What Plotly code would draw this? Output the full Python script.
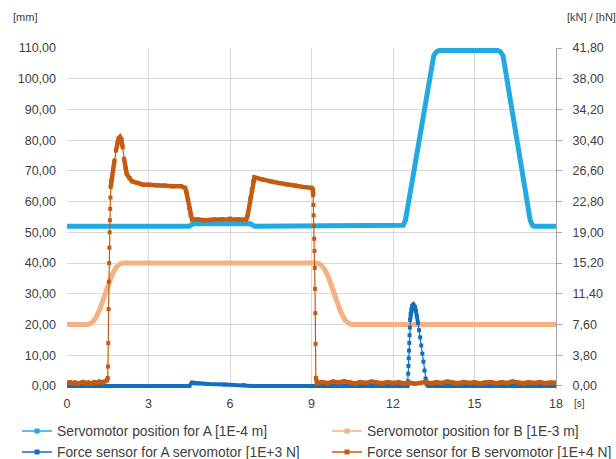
import plotly.graph_objects as go

# ---------------- data ----------------
# Servomotor position for A [1E-4 m]  (left axis, mm)
pos_a_t = [0, 4.5, 4.65, 6.75, 6.9, 12.3, 12.38, 12.46, 13.5, 13.6, 13.7,
           15.85, 15.95, 16.05, 17.05, 17.13, 17.2, 18]
pos_a_v = [52, 52, 52.8, 52.8, 52, 52, 52.3, 54, 107.5, 108.8, 109.2,
           109.2, 108.8, 107.5, 54, 52.3, 52, 52]

# Servomotor position for B [1E-3 m]  (left axis, mm)
pos_b_t = [0, 0.77, 0.9, 1.05, 1.2, 1.35, 1.5, 1.65, 1.8, 1.95, 2.06,
           9.2, 9.33, 9.48, 9.63, 9.78, 9.93, 10.08, 10.23, 10.38, 10.49, 18]
pos_b_v = [20, 20, 20.5, 22, 24.8, 28.5, 32.5, 36, 38.5, 39.7, 40,
           40, 39.5, 38, 35.2, 31.5, 27.5, 24, 21.5, 20.3, 20, 20]

# Force sensor for A servomotor [1E+3 N]  (right axis, kN / hN)
force_a_t = [0, 4.5, 4.6, 4.8, 5.2, 5.8, 6.5, 6.8, 12.53,
             12.55, 12.56, 12.57, 12.58, 12.59, 12.6, 12.61, 12.62, 12.63,
             12.65, 12.68, 12.71, 12.75, 12.8, 12.84, 12.88, 12.92, 12.96,
             13.0, 13.04, 13.08, 13.12, 13.16, 13.2, 13.24, 13.3, 18]
force_a_v = [0, 0, 0.4, 0.33, 0.24, 0.17, 0.1, 0, 0,
             0.57, 1.52, 2.47, 3.42, 4.37, 5.32, 6.27, 7.22, 8.17,
             8.93, 9.5, 9.88, 10.07, 9.8, 9.3, 8.6, 7.8, 6.9,
             6.0, 5.0, 4.0, 3.0, 1.9, 0.9, 0.2, 0, 0]

# Force sensor for B servomotor [1E+4 N]  (right axis, kN / hN)
force_b_t = [0, 0.1, 0.2, 0.3, 0.4, 0.5, 0.6, 0.7, 0.8, 0.9, 1.0, 1.1, 1.2, 1.3, 1.4, 1.47,
             1.5, 1.51, 1.52, 1.53, 1.54, 1.55, 1.56, 1.57, 1.58, 1.59, 1.6, 1.61,
             1.63, 1.66, 1.7, 1.75, 1.8, 1.85, 1.9, 1.95, 2.0, 2.05, 2.1, 2.15, 2.2,
             2.3, 2.4, 2.6, 2.8, 3.0, 3.3, 3.6, 3.9, 4.2, 4.35, 4.4, 4.45, 4.5, 4.55,
             4.6, 4.8, 5.1, 5.4, 5.7, 6.0, 6.3, 6.6, 6.65, 6.7, 6.75, 6.8, 6.85, 6.9,
             7.0, 7.2, 7.5, 7.8, 8.1, 8.4, 8.7, 9.0, 9.05, 9.06, 9.07, 9.08, 9.09,
             9.1, 9.11, 9.12, 9.13, 9.14, 9.15, 9.16,
             9.2, 9.4, 9.6, 9.8, 10.0, 10.2, 10.4, 10.6, 10.8, 11.0, 11.2, 11.4,
             11.6, 11.8, 12.0, 12.2, 12.4, 12.6, 12.8, 13.0, 13.2, 13.4, 13.6,
             13.8, 14.0, 14.2, 14.4, 14.6, 14.8, 15.0, 15.2, 15.4, 15.6, 15.8,
             16.0, 16.2, 16.4, 16.6, 16.8, 17.0, 17.2, 17.4, 17.6, 17.8, 18.0]
force_b_v = [0.30, 0.46, 0.34, 0.42, 0.27, 0.38, 0.49, 0.34, 0.42, 0.30, 0.46, 0.38, 0.53, 0.42, 0.57, 0.68,
             1.0, 2.4, 5.3, 9.5, 12.9, 15.2, 17.1, 19.0, 20.5, 21.9, 23.3, 24.6,
             25.4, 25.9, 26.8, 27.9, 29.1, 30.0, 30.6, 30.8, 30.5, 29.5, 28.1, 27.0, 26.2,
             25.7, 25.3, 25.1, 24.9, 24.9, 24.8, 24.8, 24.7, 24.7, 24.5, 23.9, 23.0, 22.0, 21.1,
             20.6, 20.6, 20.5, 20.6, 20.6, 20.7, 20.6, 20.6, 21.1, 22.0, 23.2, 24.3, 25.3, 25.8,
             25.7, 25.5, 25.3, 25.1, 24.9, 24.8, 24.6, 24.5, 24.3, 23.6, 22.4, 21.1, 19.8,
             18.2, 16.7, 14.6, 12.0, 9.0, 5.2, 1.0,
             0.38, 0.49, 0.34, 0.53, 0.42, 0.57, 0.46, 0.30, 0.49, 0.38, 0.53, 0.42,
             0.34, 0.49, 0.38, 0.46, 0.30, 0.42, 0.27, 0.38, 0.49, 0.34, 0.46,
             0.38, 0.53, 0.42, 0.34, 0.49, 0.38, 0.46, 0.30, 0.42, 0.49, 0.34,
             0.46, 0.38, 0.53, 0.42, 0.34, 0.46, 0.38, 0.49, 0.34, 0.42, 0.38]

# axis ticks
x_ticks = [0, 3, 6, 9, 12, 15, 18]
left_ticks = [0, 10, 20, 30, 40, 50, 60, 70, 80, 90, 100, 110]
left_labels = ["0,00", "10,00", "20,00", "30,00", "40,00", "50,00", "60,00",
               "70,00", "80,00", "90,00", "100,00", "110,00"]
right_ticks = [0, 3.8, 7.6, 11.4, 15.2, 19.0, 22.8, 26.6, 30.4, 34.2, 38.0, 41.8]
right_labels = ["0,00", "3,80", "7,60", "11,40", "15,20", "19,00", "22,80",
                "26,60", "30,40", "34,20", "38,00", "41,80"]

names = ["Servomotor position for A [1E-4 m]", "Servomotor position for B [1E-3 m]",
         "Force sensor for A servomotor [1E+3 N]", "Force sensor for B servomotor [1E+4 N]"]

# ---------------- styling ----------------
C_POS_A = "#22a9e1"
C_POS_B = "#f4b183"
C_F_A = "#136fbd"
C_F_B = "#c55a11"
TXT = "#404040"
GRID = "#d9d9d9"
FONT = "Liberation Sans"
TICK_FONT = dict(family=FONT, size=12.5, color=TXT)


def split_jumps(t, v, thr):
    xs, ys = [], []
    for i in range(len(t)):
        if i > 0 and abs(v[i] - v[i - 1]) > thr:
            xs.append(None)
            ys.append(None)
        xs.append(t[i])
        ys.append(v[i])
    return xs, ys


fig = go.Figure()

fig.add_trace(go.Scatter(x=pos_a_t, y=pos_a_v, mode="lines", yaxis="y",
                         line=dict(color=C_POS_A, width=5), showlegend=False,
                         hoverinfo="skip"))
fig.add_trace(go.Scatter(x=pos_b_t, y=pos_b_v, mode="lines", yaxis="y",
                         line=dict(color=C_POS_B, width=5), showlegend=False,
                         hoverinfo="skip"))

# force A: thin dotted line with markers + thick overlay on dense parts
fig.add_trace(go.Scatter(x=force_a_t, y=force_a_v, mode="lines+markers", yaxis="y2",
                         line=dict(color=C_F_A, width=1.2),
                         marker=dict(symbol="square", size=4, color=C_F_A),
                         showlegend=False, hoverinfo="skip"))
fa_x, fa_y = split_jumps(force_a_t, force_a_v, 0.8)
fig.add_trace(go.Scatter(x=fa_x, y=fa_y, mode="lines", yaxis="y2",
                         line=dict(color=C_F_A, width=4), connectgaps=False,
                         showlegend=False, hoverinfo="skip"))

# force B
fig.add_trace(go.Scatter(x=force_b_t, y=force_b_v, mode="lines+markers", yaxis="y2",
                         line=dict(color=C_F_B, width=1.2),
                         marker=dict(symbol="square", size=4, color=C_F_B),
                         showlegend=False, hoverinfo="skip"))
fb_x, fb_y = split_jumps(force_b_t, force_b_v, 1.2)
fig.add_trace(go.Scatter(x=fb_x, y=fb_y, mode="lines", yaxis="y2",
                         line=dict(color=C_F_B, width=4.5), connectgaps=False,
                         showlegend=False, hoverinfo="skip"))

# legend entries (one small legend per entry, laid out 2 x 2)
for name, col, leg, ax in [(names[0], C_POS_A, "legend", "y"),
                           (names[2], C_F_A, "legend2", "y2"),
                           (names[1], C_POS_B, "legend3", "y"),
                           (names[3], C_F_B, "legend4", "y2")]:
    fig.add_trace(go.Scatter(x=[None], y=[None], mode="lines+markers", yaxis=ax,
                             name=name, legend=leg,
                             line=dict(color=col, width=1.5),
                             marker=dict(symbol="square", size=5, color=col)))

legend_common = dict(orientation="v", xref="container", yref="container",
                     yanchor="middle", xanchor="left", bgcolor="rgba(0,0,0,0)",
                     font=dict(family=FONT, size=13.8, color=TXT),
                     tracegroupgap=0, itemwidth=30)
ROW1, ROW2 = 1 - 431 / 459, 1 - 452 / 459
COL1, COL2 = 17 / 616, 327 / 616

fig.update_layout(
    width=616, height=459,
    margin=dict(l=67, r=60, t=48, b=70, autoexpand=False),
    paper_bgcolor="white", plot_bgcolor="white",
    font=dict(family=FONT, size=12, color=TXT),
    xaxis=dict(range=[0, 18], tickvals=x_ticks, ticktext=[str(v) for v in x_ticks],
               showgrid=True, gridcolor=GRID, gridwidth=1, zeroline=False,
               showline=False, ticks="", automargin=False, ticklabelstandoff=5,
               tickfont=TICK_FONT),
    yaxis=dict(range=[-1, 110], tickvals=left_ticks, ticktext=left_labels,
               showgrid=True, gridcolor=GRID, gridwidth=1, zeroline=False,
               showline=False, ticks="", automargin=False, ticklabelstandoff=10,
               tickfont=TICK_FONT),
    yaxis2=dict(range=[-0.38, 41.8], overlaying="y", side="right", anchor="x",
                tickvals=right_ticks, ticktext=right_labels, automargin=False,
                showgrid=False, zeroline=False, showline=True, linecolor="#a6a6a6",
                linewidth=1, ticks="outside", ticklen=5, tickcolor="#a6a6a6",
                ticklabelstandoff=8, tickfont=TICK_FONT),
    legend=dict(x=COL1, y=ROW1, **legend_common),
    legend2=dict(x=COL1, y=ROW2, **legend_common),
    legend3=dict(x=COL2, y=ROW1, **legend_common),
    legend4=dict(x=COL2, y=ROW2, **legend_common),
    annotations=[
        dict(text="[mm]", xref="paper", yref="paper", x=(11 - 67) / 489, y=1 + (48 - 17) / 341,
             xanchor="left", yanchor="middle", showarrow=False,
             font=dict(family=FONT, size=11, color=TXT)),
        dict(text="[kN] / [hN]", xref="paper", yref="paper", x=(565 - 67) / 489,
             y=1 + (48 - 17) / 341, xanchor="left", yanchor="middle", showarrow=False,
             font=dict(family=FONT, size=11, color=TXT)),
        dict(text="[s]", xref="paper", yref="paper", x=(572 - 67) / 489,
             y=(389 - 403) / 341, xanchor="left", yanchor="middle", showarrow=False,
             font=dict(family=FONT, size=10, color=TXT)),
    ],
)

fig.write_html("out.html", config={"displayModeBar": False},
               post_script="document.body.style.margin='0';")
